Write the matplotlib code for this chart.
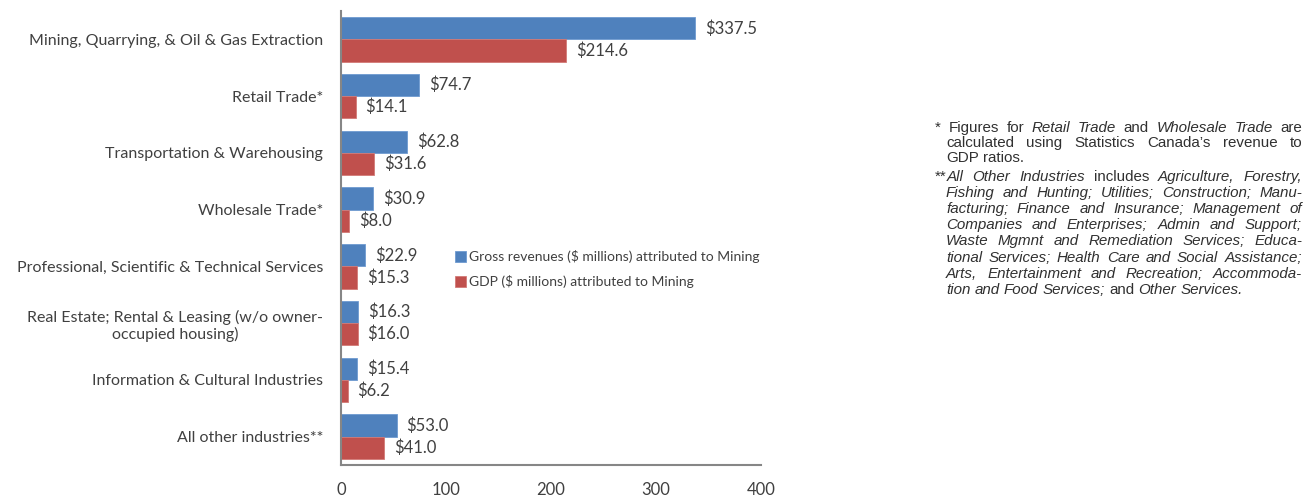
import matplotlib
matplotlib.use('Agg')
import matplotlib.pyplot as plt
import numpy as np

# industry groups, top to bottom
industries = ['Mining, Quarrying, & Oil & Gas Extraction',
              'Retail Trade*',
              'Transportation & Warehousing',
              'Wholesale Trade*',
              'Professional, Scientific & Technical Services',
              'Real Estate; Rental & Leasing (w/o owner-\noccupied housing)',
              'Information & Cultural Industries',
              'All other industries**']
gross_revenues = [337.5, 74.7, 62.8, 30.9, 22.9, 16.3, 15.4, 53.0]
gdp = [214.6, 14.1, 31.6, 8.0, 15.3, 16.0, 6.2, 41.0]
xticks = [0, 100, 200, 300, 400]

blue = '#4F81BD'
red = '#C0504D'
txt = '#404040'
label_font = ['Lato', 'DejaVu Sans']
note_font = 'Liberation Sans'

W, H = 1310, 497
fig = plt.figure(figsize=(W / 100, H / 100), dpi=100)
ax = fig.add_axes([341 / W, 1 - 465 / H, 420 / W, 454 / H])

y = np.arange(len(industries))
bh = 0.39
ax.barh(y - bh / 2, gross_revenues, height=bh, color=blue, edgecolor='#6f9bd1', linewidth=0.6,
        label='Gross revenues ($ millions) attributed to Mining')
ax.barh(y + bh / 2, gdp, height=bh, color=red, edgecolor='#d27a77', linewidth=0.6,
        label='GDP ($ millions) attributed to Mining')

for yi, v in zip(y, gross_revenues):
    ax.annotate('${:.1f}'.format(v), (v, yi - bh / 2), xytext=(7, 0), textcoords='offset points',
                va='center', ha='left', fontsize=12, color=txt, family=label_font)
for yi, v in zip(y, gdp):
    ax.annotate('${:.1f}'.format(v), (v, yi + bh / 2), xytext=(7, 0), textcoords='offset points',
                va='center', ha='left', fontsize=12, color=txt, family=label_font)

ax.set_ylim(len(industries) - 0.5, -0.5)
ax.set_xlim(0, 400)
ax.set_xticks(xticks)
ax.set_xticklabels([str(t) for t in xticks], family=label_font, fontsize=12, color=txt)
ax.set_yticks(y)
ax.set_yticklabels(industries, family=label_font, fontsize=11.5, color=txt, multialignment='center')
ax.tick_params(axis='both', length=0)
ax.tick_params(axis='x', pad=12)
ax.tick_params(axis='y', pad=13)
for s in ['top', 'right']:
    ax.spines[s].set_visible(False)
for s in ['left', 'bottom']:
    ax.spines[s].set_color('#868686')
    ax.spines[s].set_linewidth(1.5)

leg = ax.legend(loc='upper left', bbox_to_anchor=(0.258, 0.485), frameon=False,
                prop={'family': label_font, 'size': 10}, handlelength=0.8, handleheight=0.8,
                handletextpad=0.2, labelspacing=0.85, borderaxespad=0)
for t in leg.get_texts():
    t.set_color(txt)

# footnotes, justified, with italic runs
notes = [
    [[[('*', False)], [('Figures', False)], [('for', False)], [('Retail', True)], [('Trade', True)],
      [('and', False)], [('Wholesale', True)], [('Trade', True)], [('are', False)]],
     [[('calculated', False)], [('using', False)], [('Statistics', False)], [('Canada\u2019s', False)],
      [('revenue', False)], [('to', False)]],
     [[('GDP', False)], [('ratios.', False)]]],
    [[[('**', False), ('All', True)], [('Other', True)], [('Industries', True)], [('includes', False)],
      [('Agriculture,', True)], [('Forestry,', True)]],
     [[(w, True)] for w in 'Fishing and Hunting; Utilities; Construction; Manu-'.split()],
     [[(w, True)] for w in 'facturing; Finance and Insurance; Management of'.split()],
     [[(w, True)] for w in 'Companies and Enterprises; Admin and Support;'.split()],
     [[(w, True)] for w in 'Waste Mgmnt and Remediation Services; Educa-'.split()],
     [[(w, True)] for w in 'tional Services; Health Care and Social Assistance;'.split()],
     [[(w, True)] for w in 'Arts, Entertainment and Recreation; Accommoda-'.split()],
     [[('tion', True)], [('and', True)], [('Food', True)], [('Services;', True)], [('and', False)],
      [('Other', True)], [('Services.', True)]]],
]
note_size = 10.9
renderer = fig.canvas.get_renderer()


def width_px(s, italic):
    t = fig.text(0, 0, s, fontsize=note_size, family=note_font,
                 style='italic' if italic else 'normal')
    w = t.get_window_extent(renderer).width
    t.remove()
    return w


space = width_px('a a', False) - width_px('aa', False)
right_x = 1302
line_y = [128, 143, 158, 177, 193, 209, 225, 241, 258, 274, 290]
k = 0
for para in notes:
    for i, line in enumerate(para):
        x0 = 935 if i == 0 else 946
        widths = [sum(width_px(s, it) for s, it in word) for word in line]
        last = i == len(para) - 1
        if last or len(line) < 2:
            gap = space
        else:
            gap = max((right_x - x0 - sum(widths)) / (len(line) - 1), 0.6 * space)
        x = x0
        for word, w in zip(line, widths):
            xx = x
            for s, it in word:
                fig.text(xx / W, 1 - line_y[k] / H, s, fontsize=note_size, family=note_font,
                         style='italic' if it else 'normal', color='#303030', va='center', ha='left')
                xx += width_px(s, it)
            x += w + gap
        k += 1

fig.savefig('out.png', dpi=100)
